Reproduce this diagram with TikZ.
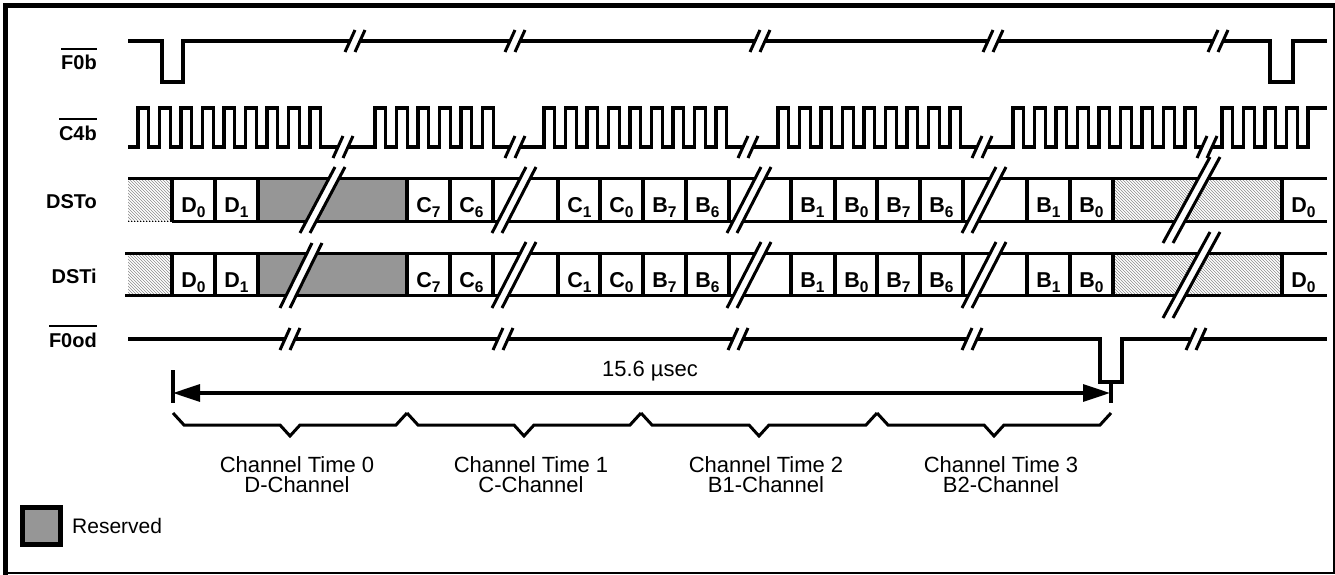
\documentclass[tikz,border=0pt]{standalone}
\usepackage{fontspec}
\setmainfont{Liberation Sans}
\usepackage{tikz}
\usetikzlibrary{patterns,arrows.meta,positioning}
\definecolor{resgray}{RGB}{150,150,150}
\newcommand{\ovl}[1]{\setbox0\hbox{#1}\rlap{\rule[\dimexpr\ht0+6pt\relax]{\wd0}{1.8pt}}\box0}
\newcommand{\bitlbl}[2]{#1\raisebox{-5pt}{\fontsize{15.5}{15.5}\selectfont #2}}
% break marks on a single line and across a data row
\newcommand{\lbrk}[2]{%
  \fill[white] ({#1-10},{#2+11}) -- ({#1},{#2-11}) -- ({#1+10},{#2-11}) -- ({#1},{#2+11}) -- cycle;
  \draw[brk] ({#1-10},{#2+11}) -- ({#1},{#2-11}) ({#1},{#2+11}) -- ({#1+10},{#2-11});}
\newcommand{\dbrk}[4]{%
  \fill[white] (#1,#2) -- (#3,#4) -- ({#3+10},#4) -- ({#1+10},#2) -- cycle;
  \draw[brk] (#1,#2) -- (#3,#4) ({#1+10},#2) -- ({#3+10},#4);}

\begin{document}
\begin{tikzpicture}[x=1pt,y=-1pt,
              sig/.style={line width=3.2pt},
              brk/.style={line width=3pt},
              lbl/.style={inner sep=0pt, anchor=base east, font=\fontsize{20}{20}\selectfont\bfseries},
              bit/.style={inner sep=0pt, anchor=base, font=\fontsize{21.5}{21.5}\selectfont\bfseries},
              txt/.style={inner sep=0pt, font=\fontsize{22}{20}\selectfont, align=center},
              hatch/.style={pattern=north west lines, pattern color=black!45},
              dim/.style={line width=3.2pt, {Triangle[length=27pt,width=17pt]}-{Triangle[length=27pt,width=17pt]}},
             ]
\useasboundingbox (0,0) rectangle (1335,575);
% frame
\draw[line width=5.6pt] (5.5,575) -- (5.5,5.5) -- (1335,5.5);
\draw[line width=1.5pt] (1334,5.5) -- (1334,573) -- (5.5,573);

% signal names
\node[lbl] (f0b) at (97,70) {\ovl{F0b}};
\node[lbl] (c4b) at (97,140) {\ovl{C4b}};
\node[lbl] (dsto) at (97,208) {DSTo};
\node[lbl] (dsti) at (97,283) {DSTi};
\node[lbl] (f0od) at (97,347) {\ovl{F0od}};

% F0b and F0od
\draw[sig] (128,41) -- (162,41) -- (162,82) -- (183,82) -- (183,41) -- (1270,41)
           -- (1270,82) -- (1293,82) -- (1293,41) -- (1327,41);
\draw[sig] (128,339) -- (1100,339) -- (1100,382) -- (1122,382) -- (1122,339) -- (1327,339);

% C4b clock
\draw[sig] (128,147) \foreach \s/\n in {138/9, 375/6, 544/9, 778/9, 1013/9, 1222/4} {
    \foreach \k in {1,...,\n} { -- ({\s+(\k-1)*21.5},147) -- ++(0,-39) -- ++(10.75,0) -- ++(0,39) } }
  -- (1308,147) -- (1308,108) -- (1327,108);

\foreach \x in {355,515,760,993,1218} \lbrk{\x}{41};
\foreach \x in {343,515,748,982,1207} \lbrk{\x}{147};
\foreach \x in {290,503,738,972,1196} \lbrk{\x}{339};

% DSTo and DSTi rows
\foreach \r/\y in {o/178.5, i/253.5} {
  \fill[hatch] (128,\y) rectangle (172,{\y+43});
  \fill[resgray] (258,\y) rectangle (407,{\y+43});
  \fill[hatch] (1113,\y) rectangle (1282,{\y+43});
  \foreach \x in {172,215,258,407,450,493,558,600,643,686,729,791,835,877,920,963,1027,1070,1113,1282}
    \draw[sig] (\x,\y) -- (\x,{\y+43});
  \foreach \cx/\cl/\cs in {172/D/0, 215/D/1, 407/C/7, 450/C/6, 558/C/1, 600/C/0, 643/B/7, 686/B/6,
                           791/B/1, 835/B/0, 877/B/7, 920/B/6, 1027/B/1, 1070/B/0, 1282/D/0}
    \node[bit] (\r\cx) at ({\cx+21.5},{\y+33.5}) {\bitlbl{\cl}{\cs}};
}
\draw[sig] (128,178.5) -- (1327,178.5);
\draw[sig] (172,221.5) -- (1327,221.5);
\draw[line width=1pt, dotted] (128,221.5) -- (172,221.5);
\draw[sig] (125,253.5) -- (1327,253.5);
\draw[sig] (125,295.5) -- (1327,295.5);

\dbrk{300}{233}{335}{167}
\dbrk{280}{308}{312}{243}
\foreach \x in {492,727,962} {
  \dbrk{\x}{233}{\x+34}{167}
  \dbrk{\x}{308}{\x+34}{242}
}
\dbrk{1163}{243}{1210}{157}
\dbrk{1163}{318}{1210}{232}

% frame period
\coordinate (t0) at (173,393);
\coordinate (t1) at (1110,393);
\draw[sig] (173,370) -- (173,403);
\draw[sig] (1111,382) -- (1111,403);
\draw[dim] (t0) -- (t1);
\node[txt] (period) at (650,371) {15.6 µsec};

% channel times
\foreach \a/\b in {173/407, 407/641, 641/877, 877/1111}
  \draw[line width=3pt] (\a,413) -- ({\a+11},425) -- ({(\a+\b)/2-10},425) -- ({(\a+\b)/2},436)
    -- ({(\a+\b)/2+10},425) -- ({\b-11},425) -- (\b,413);
\foreach \i/\m/\c in {0/297/D, 1/531/C, 2/766/B1, 3/1001/B2}
  \node[txt] (ch\i) at (\m,475) {Channel Time \i\\\c-Channel};

% legend
\draw[line width=5pt, fill=resgray] (22.5,507.5) rectangle (60.5,544.5);
\node[txt, anchor=west] (reserved) at (72,526) {\fontsize{21}{21}\selectfont Reserved};
\end{tikzpicture}
\end{document}
